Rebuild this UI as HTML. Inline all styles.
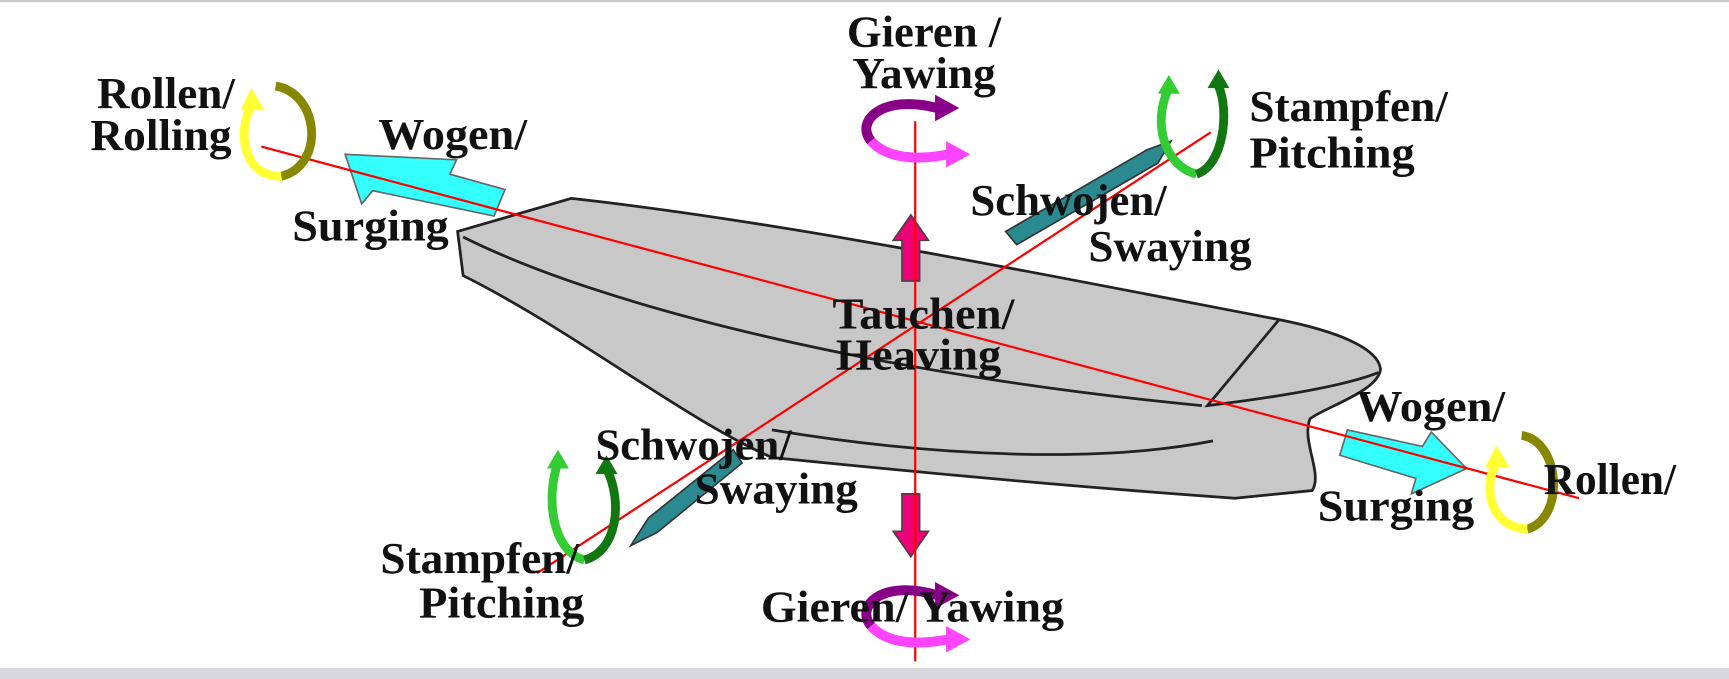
<!DOCTYPE html>
<html><head><meta charset="utf-8"><style>
html,body{margin:0;padding:0;background:#fff;width:1729px;height:679px;overflow:hidden}
svg{display:block}
text{font-family:"Liberation Serif",serif;font-weight:bold;font-size:40px;fill:#111}
</style></head><body>
<svg width="1729" height="679" viewBox="0 0 1568 616" preserveAspectRatio="none">
<rect x="0" y="0" width="1568" height="2" fill="#ccc"/>
<rect x="0" y="606" width="1568" height="10" fill="#d8d8dc"/>
<!-- hull -->
<path d="M415,210 L518,180 C700,200 900,240 1160,290 C1210,300 1250,315 1252,335 C1250,355 1200,370 1188,380 C1180,400 1200,430 1190,445 L1120,452 C950,440 800,425 700,415 C620,380 520,300 420,250 Z" fill="#c8c8c8" stroke="#222" stroke-width="2.5"/>
<path d="M420,215 C550,280 800,340 1090,368" fill="none" stroke="#222" stroke-width="2.5"/>
<path d="M1160,290 L1095,368 C1160,360 1220,350 1250,338" fill="none" stroke="#222" stroke-width="2.5"/>
<path d="M700,390 C850,415 1000,420 1100,400" fill="none" stroke="#222" stroke-width="2.5"/>
<!-- cyan surging arrows -->
<polygon points="458,172 408,158 414,145 313,140 328,185 338,173 448,196" fill="#33ffff" stroke="#666" stroke-width="1.5"/>
<polygon points="1222,390 1290,405 1298,392 1330,425 1280,448 1284,434 1215,413" fill="#33ffff" stroke="#666" stroke-width="1.5"/>
<!-- teal sway arrows -->
<polygon points="912,210 1040,136 1062,128 1050,148 922,222" fill="#2a8a90" stroke="#333" stroke-width="1.5"/>
<polygon points="665,408 588,470 572,495 596,483 673,420" fill="#2a8a90" stroke="#333" stroke-width="1.5"/>
<!-- magenta heave -->
<polygon points="818,255 818,218 810,218 826,195 842,218 834,218 834,255" fill="#ee0077" stroke="#444" stroke-width="1.5"/>
<polygon points="818,448 818,482 810,482 826,505 842,482 834,482 834,448" fill="#ee0077" stroke="#444" stroke-width="1.5"/>
<!-- red axes -->
<line x1="237" y1="133" x2="1432" y2="452" stroke="#ff0000" stroke-width="2"/>
<line x1="487" y1="520" x2="1098" y2="120" stroke="#ff0000" stroke-width="2"/>
<line x1="830" y1="110" x2="830" y2="600" stroke="#ff0000" stroke-width="2"/>
<!-- yaw curls -->
<g fill="none" stroke-width="9">
<path d="M850,98 C800,85 775,110 790,128" stroke="#880088"/>
<path d="M790,128 C805,145 835,145 860,140" stroke="#ff44ff"/>
<path d="M850,540 C800,525 775,550 790,568" stroke="#880088"/>
<path d="M790,568 C805,585 835,585 860,580" stroke="#ff44ff"/>
</g>
<polygon points="848,86 870,98 848,110" fill="#880088"/>
<polygon points="858,128 880,140 858,152" fill="#ff44ff"/>
<polygon points="848,528 870,540 848,552" fill="#880088"/>
<polygon points="858,568 880,580 858,592" fill="#ff44ff"/>
<!-- roll curls -->
<g fill="none" stroke-width="8">
<path d="M250,78 C290,85 295,150 255,160" stroke="#888800"/>
<path d="M255,160 C220,160 215,120 228,95" stroke="#ffff33"/>
<path d="M1380,395 C1415,400 1420,470 1385,480" stroke="#888800"/>
<path d="M1385,480 C1350,478 1345,440 1357,420" stroke="#ffff33"/>
</g>
<polygon points="218,100 228,80 240,100" fill="#ffff33"/>
<polygon points="1347,424 1357,404 1369,424" fill="#ffff33"/>
<!-- pitch curls -->
<g fill="none" stroke-width="8">
<path d="M1060,80 C1045,110 1055,150 1085,158" stroke="#33cc33"/>
<path d="M1085,158 C1110,150 1115,100 1105,78" stroke="#117711"/>
<path d="M506,420 C495,450 500,500 530,508" stroke="#33cc33"/>
<path d="M530,508 C560,500 565,455 550,425" stroke="#117711"/>
</g>
<polygon points="1050,85 1060,68 1070,85" fill="#33cc33"/>
<polygon points="1095,80 1105,63 1115,80" fill="#117711"/>
<polygon points="496,425 506,408 516,425" fill="#33cc33"/>
<polygon points="540,430 550,413 560,430" fill="#117711"/>
<!-- labels -->
<text x="768" y="42" textLength="140" lengthAdjust="spacingAndGlyphs">Gieren /</text>
<text x="773" y="80" textLength="130" lengthAdjust="spacingAndGlyphs">Yawing</text>
<text x="88" y="98" textLength="125" lengthAdjust="spacingAndGlyphs">Rollen/</text>
<text x="82" y="136" textLength="128" lengthAdjust="spacingAndGlyphs">Rolling</text>
<text x="343" y="135" textLength="135" lengthAdjust="spacingAndGlyphs">Wogen/</text>
<text x="265" y="218" textLength="142" lengthAdjust="spacingAndGlyphs">Surging</text>
<text x="1133" y="110" textLength="180" lengthAdjust="spacingAndGlyphs">Stampfen/</text>
<text x="1133" y="152" textLength="150" lengthAdjust="spacingAndGlyphs">Pitching</text>
<text x="880" y="195" textLength="178" lengthAdjust="spacingAndGlyphs">Schwojen/</text>
<text x="987" y="237" textLength="148" lengthAdjust="spacingAndGlyphs">Swaying</text>
<text x="755" y="298" textLength="165" lengthAdjust="spacingAndGlyphs">Tauchen/</text>
<text x="758" y="335" textLength="150" lengthAdjust="spacingAndGlyphs">Heaving</text>
<text x="1230" y="382" textLength="135" lengthAdjust="spacingAndGlyphs">Wogen/</text>
<text x="1400" y="448" textLength="120" lengthAdjust="spacingAndGlyphs">Rollen/</text>
<text x="1195" y="472" textLength="142" lengthAdjust="spacingAndGlyphs">Surging</text>
<text x="540" y="417" textLength="178" lengthAdjust="spacingAndGlyphs">Schwojen/</text>
<text x="630" y="457" textLength="148" lengthAdjust="spacingAndGlyphs">Swaying</text>
<text x="345" y="520" textLength="180" lengthAdjust="spacingAndGlyphs">Stampfen/</text>
<text x="380" y="560" textLength="150" lengthAdjust="spacingAndGlyphs">Pitching</text>
<text x="690" y="564" textLength="275" lengthAdjust="spacingAndGlyphs">Gieren/ Yawing</text>
</svg>
</body></html>
